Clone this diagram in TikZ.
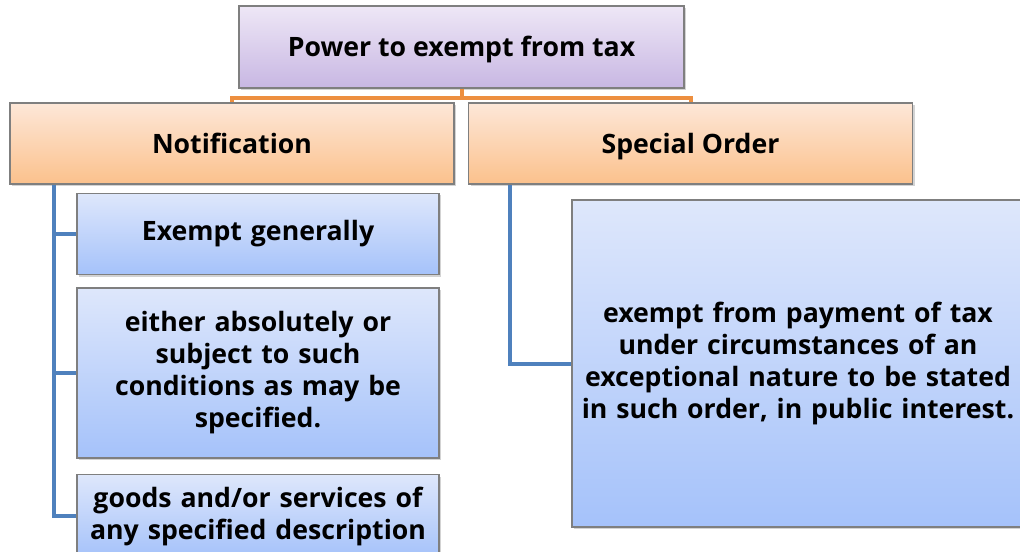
\documentclass[tikz,border=0pt]{standalone}
\usepackage{fontspec}
\setmainfont{Open Sans}[BoldFont={Open Sans Bold}]
\usetikzlibrary{calc,shadows}
\definecolor{lineorange}{HTML}{ED8F3F}
\definecolor{lineblue}{HTML}{4F81BD}
\definecolor{boxedge}{HTML}{7F7F7F}
\definecolor{rootTop}{HTML}{EEE7F6}
\definecolor{rootBot}{HTML}{C8B7E3}
\definecolor{headTop}{HTML}{FDE7D8}
\definecolor{headBot}{HTML}{FBC18C}
\definecolor{itemTop}{HTML}{DEE7FB}
\definecolor{itemBot}{HTML}{A5C2FA}
\begin{document}
\begin{tikzpicture}[x=0.75pt,y=-0.75pt,font=\bfseries\fontsize{20}{24}\selectfont,
  box/.style={draw=boxedge,line width=0.8pt,align=center,inner sep=2pt,drop shadow={opacity=0.35,shadow xshift=1.5pt,shadow yshift=-1.5pt}},
  rootbox/.style={box,top color=rootTop,bottom color=rootBot,minimum width=333.75pt,minimum height=61.5pt,text height=19.4pt,text depth=5pt},
  headbox/.style={box,top color=headTop,bottom color=headBot,minimum width=333pt,minimum height=60.75pt,text height=19.4pt,text depth=5pt},
  itembox/.style={box,top color=itemTop,bottom color=itemBot,minimum width=271.5pt,text width=264pt},
  orangeline/.style={lineorange,line width=3pt},
  blueline/.style={lineblue,line width=3pt}]
\useasboundingbox (0,0) rectangle (1020,552);
\node[rootbox] (root) at (461.5,47) {Power to exempt from tax};
\node[headbox] (notif) at (232,143.5) {Notification};
\node[headbox] (spec) at (690.5,143.5) {Special Order};
\node[itembox,minimum height=60.75pt] (gen) at (258,234) {Exempt generally};
\node[itembox,minimum height=127.5pt] (cond) at (258,373) {either absolutely or\\subject to such\\conditions as may be\\specified.};
\node[itembox,minimum height=62.25pt] (goods) at (258,516) {goods and/or services of\\any specified description};
\node[itembox,minimum width=339pt,text width=334pt,minimum height=245.25pt] (detail) at (798,363.5) {exempt from payment of tax\\under circumstances of an\\exceptional nature to be stated\\in such order, in public interest.};
% connectors
\draw[orangeline] (root.south) -- ++(0,9) -| (notif.north);
\draw[orangeline] (root.south) -- ++(0,9) -| (spec.north);
\draw[blueline] ($(notif.south west)+(45,0)$) |- (gen.west);
\draw[blueline] ($(notif.south west)+(45,0)$) |- (cond.west);
\draw[blueline] ($(notif.south west)+(45,0)$) |- (goods.west);
\draw[blueline] ($(spec.south west)+(42,0)$) |- (detail.west);
\end{tikzpicture}
\end{document}
